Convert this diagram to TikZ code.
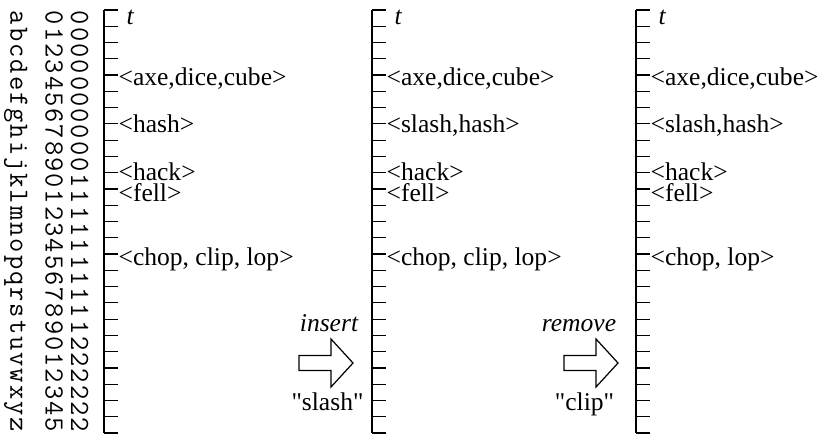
\documentclass[tikz,border=0pt]{standalone}
\usepackage{fontspec}
\setmainfont{Liberation Serif}
\newfontfamily\plainserif{Liberation Serif}
\tikzset{
  lbl/.style={anchor=base west,inner sep=0pt,font=\fontsize{11.5}{13}\selectfont},
  tlbl/.style={anchor=base west,inner sep=0pt,font=\itshape\fontsize{11.5}{13}\selectfont},
  op/.style={anchor=base,inner sep=0pt,font=\itshape\fontsize{11.5}{13}\selectfont},
  arg/.style={anchor=base,inner sep=0pt,font=\plainserif\fontsize{11.5}{13}\selectfont},
  rot/.style={rotate=-90,anchor=base,inner sep=0pt,font=\ttfamily\fontsize{12.5}{14}\selectfont}
}

\begin{document}
\begin{tikzpicture}[x=0.45pt,y=-0.45pt,line width=0.55pt]
\useasboundingbox (0,0) rectangle (818,438);
% row names: letter, units, tens
\foreach \c [count=\i from 0] in {a,...,z} {
  \pgfmathtruncatemacro\tens{\i/10}
  \pgfmathtruncatemacro\ones{mod(\i,10)}
  \node[rot] (let\i) at (10.5,18.14+16.27*\i) {\c};
  \node[rot] (one\i) at (45.5,18.14+16.27*\i) {\ones};
  \node[rot] (ten\i) at (71,18.14+16.27*\i) {\tens};
}
% the three time lines
\foreach \tx [count=\n] in {104,372,636} {
  \draw (\tx,10) coordinate (top\n) -- (\tx,433) coordinate (bot\n);
  \foreach \k in {0,...,26} \draw (\tx,10+16.27*\k) -- ++(14,0);
  \node[tlbl] (t\n) at (\tx+22,25) {t};
}
% before
\node[lbl] (axeA) at (118,86) {<axe,dice,cube>};
\node[lbl] (hashA) at (118,133) {<hash>};
\node[lbl] (hackA) at (118,181) {<hack>};
\node[lbl] (fellA) at (118,202) {<fell>};
\node[lbl] (chopA) at (118,265) {<chop, clip, lop>};
% after insert
\node[lbl] (axeB) at (386,86) {<axe,dice,cube>};
\node[lbl] (hashB) at (386,133) {<slash,hash>};
\node[lbl] (hackB) at (386,181) {<hack>};
\node[lbl] (fellB) at (386,202) {<fell>};
\node[lbl] (chopB) at (386,265) {<chop, clip, lop>};
% after remove
\node[lbl] (axeC) at (650,86) {<axe,dice,cube>};
\node[lbl] (hashC) at (650,133) {<slash,hash>};
\node[lbl] (hackC) at (650,181) {<hack>};
\node[lbl] (fellC) at (650,202) {<fell>};
\node[lbl] (chopC) at (650,265) {<chop, lop>};
% block arrows
\coordinate (ins) at (299,363);
\coordinate (rem) at (564,363);
\foreach \a in {ins,rem}
  \draw (\a) ++(0,-7.5) -- ++(32,0) -- ++(0,-16.5) -- ++(22,24) -- ++(-22,24)
    -- ++(0,-16.5) -- ++(-32,0) -- cycle;
\node[op] (insop) at (329,331) {insert};
\node[arg] (insarg) at (327.5,410) {"slash"};
\node[op] (remop) at (579,331) {remove};
\node[arg] (remarg) at (584.5,410) {"clip"};
\end{tikzpicture}
\end{document}
